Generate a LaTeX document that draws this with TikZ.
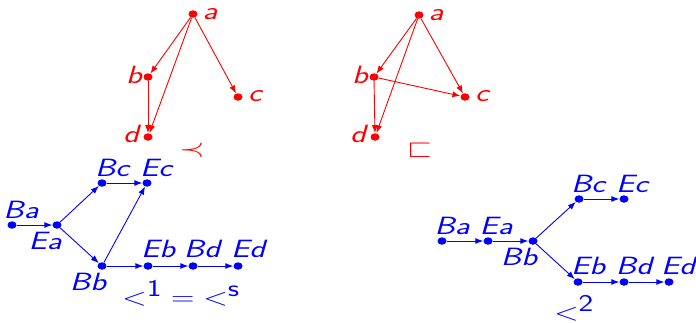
\documentclass[tikz,border=0pt]{standalone}
\usepackage{amssymb}
\usepackage{graphicx}
\usetikzlibrary{arrows.meta,shapes.geometric}
\newcommand\sx[1]{\scalebox{1.3}[1]{#1}}
\tikzset{
  rdot/.style={ellipse,fill=red,inner sep=0pt,minimum width=9pt,minimum height=7.5pt},
  bdot/.style={ellipse,fill=blue,inner sep=0pt,minimum width=9pt,minimum height=7.5pt},
  rlbl/.style={text=red,inner sep=0pt,font=\fontsize{25}{30}\selectfont\sffamily\itshape},
  blbl/.style={text=blue,inner sep=0pt,font=\fontsize{25}{30}\selectfont\sffamily\itshape},
  rarr/.style={draw=red,line width=0.9pt,-{Latex[length=8pt,width=6pt]}},
  barr/.style={draw=blue,line width=0.9pt,-{Latex[length=8pt,width=6pt]}},
}
\begin{document}
\begin{tikzpicture}[x=1pt,y=-1pt]
\useasboundingbox (0,0) rectangle (696,322);
% top-left graph
\node[rdot] (a1) at (193,14) {};
\node[rdot] (b1) at (148,77) {};
\node[rdot] (c1) at (238,97) {};
\node[rdot] (d1) at (148,137) {};
\node[rlbl] (la1) at (210,14) {\sx{a}};
\node[rlbl] (lb1) at (134,75) {\sx{b}};
\node[rlbl] (lc1) at (255,96) {\sx{c}};
\node[rlbl] (ld1) at (131,134) {\sx{d}};
\draw[rarr] (a1) -- (b1);
\draw[rarr] (a1) -- (c1);
\draw[rarr] (a1) -- (d1);
\draw[rarr] (b1) -- (d1);
\node[rlbl] (prec) at (192,150) {\sx{$\prec$}};
% top-right graph
\node[rdot] (a2) at (419,15) {};
\node[rdot] (b2) at (374,77) {};
\node[rdot] (c2) at (465,97) {};
\node[rdot] (d2) at (375,137) {};
\node[rlbl] (la2) at (436,15) {\sx{a}};
\node[rlbl] (lb2) at (360,75) {\sx{b}};
\node[rlbl] (lc2) at (482,96) {\sx{c}};
\node[rlbl] (ld2) at (358,134) {\sx{d}};
\draw[rarr] (a2) -- (b2);
\draw[rarr] (a2) -- (c2);
\draw[rarr] (a2) -- (d2);
\draw[rarr] (b2) -- (d2);
\draw[rarr] (b2) -- (c2);
\node[rlbl] (sqs) at (420,150) {\sx{$\sqsubset$}};
% bottom-left
\node[bdot] (Ba1) at (12,225) {};
\node[bdot] (Ea1) at (57,225) {};
\node[bdot] (Bc1) at (102,183) {};
\node[bdot] (Ec1) at (147,183) {};
\node[bdot] (Bb1) at (102,266) {};
\node[bdot] (Eb1) at (148,266) {};
\node[bdot] (Bd1) at (193,266) {};
\node[bdot] (Ed1) at (238,266) {};
\node[blbl] (lBa1) at (21,210) {\sx{Ba}};
\node[blbl] (lEa1) at (45,241) {\sx{Ea}};
\node[blbl] (lBc1) at (112,168) {\sx{Bc}};
\node[blbl] (lEc1) at (156,168) {\sx{Ec}};
\node[blbl] (lBb1) at (88,282) {\sx{Bb}};
\node[blbl] (lEb1) at (158,249) {\sx{Eb}};
\node[blbl] (lBd1) at (202,249) {\sx{Bd}};
\node[blbl] (lEd1) at (248,249) {\sx{Ed}};
\draw[barr] (Ba1) -- (Ea1);
\draw[barr] (Ea1) -- (Bc1);
\draw[barr] (Ea1) -- (Bb1);
\draw[barr] (Bc1) -- (Ec1);
\draw[barr] (Bb1) -- (Ec1);
\draw[barr] (Bb1) -- (Eb1);
\draw[barr] (Eb1) -- (Bd1);
\draw[barr] (Bd1) -- (Ed1);
\node[blbl,font=\fontsize{24}{28}\selectfont] (ord1) at (181,293) {\sx{${<^{\textsf{1}}} = {<^{\textsf{s}}}$}};
% bottom-right
\node[bdot] (Ba2) at (442,241) {};
\node[bdot] (Ea2) at (488,241) {};
\node[bdot] (Bb2) at (533,241) {};
\node[bdot] (Bc2) at (579,199) {};
\node[bdot] (Ec2) at (624,199) {};
\node[bdot] (Eb2) at (578,282) {};
\node[bdot] (Bd2) at (624,282) {};
\node[bdot] (Ed2) at (669,282) {};
\node[blbl] (lBa2) at (452,226) {\sx{Ba}};
\node[blbl] (lEa2) at (496,226) {\sx{Ea}};
\node[blbl] (lBb2) at (519,257) {\sx{Bb}};
\node[blbl] (lBc2) at (588,184) {\sx{Bc}};
\node[blbl] (lEc2) at (632,184) {\sx{Ec}};
\node[blbl] (lEb2) at (588,266) {\sx{Eb}};
\node[blbl] (lBd2) at (634,266) {\sx{Bd}};
\node[blbl] (lEd2) at (678,266) {\sx{Ed}};
\draw[barr] (Ba2) -- (Ea2);
\draw[barr] (Ea2) -- (Bb2);
\draw[barr] (Bb2) -- (Bc2);
\draw[barr] (Bb2) -- (Eb2);
\draw[barr] (Bc2) -- (Ec2);
\draw[barr] (Eb2) -- (Bd2);
\draw[barr] (Bd2) -- (Ed2);
\node[blbl,font=\fontsize{24}{28}\selectfont] (ord2) at (574,308) {\sx{$<^{\textsf{2}}$}};
\end{tikzpicture}
\end{document}
